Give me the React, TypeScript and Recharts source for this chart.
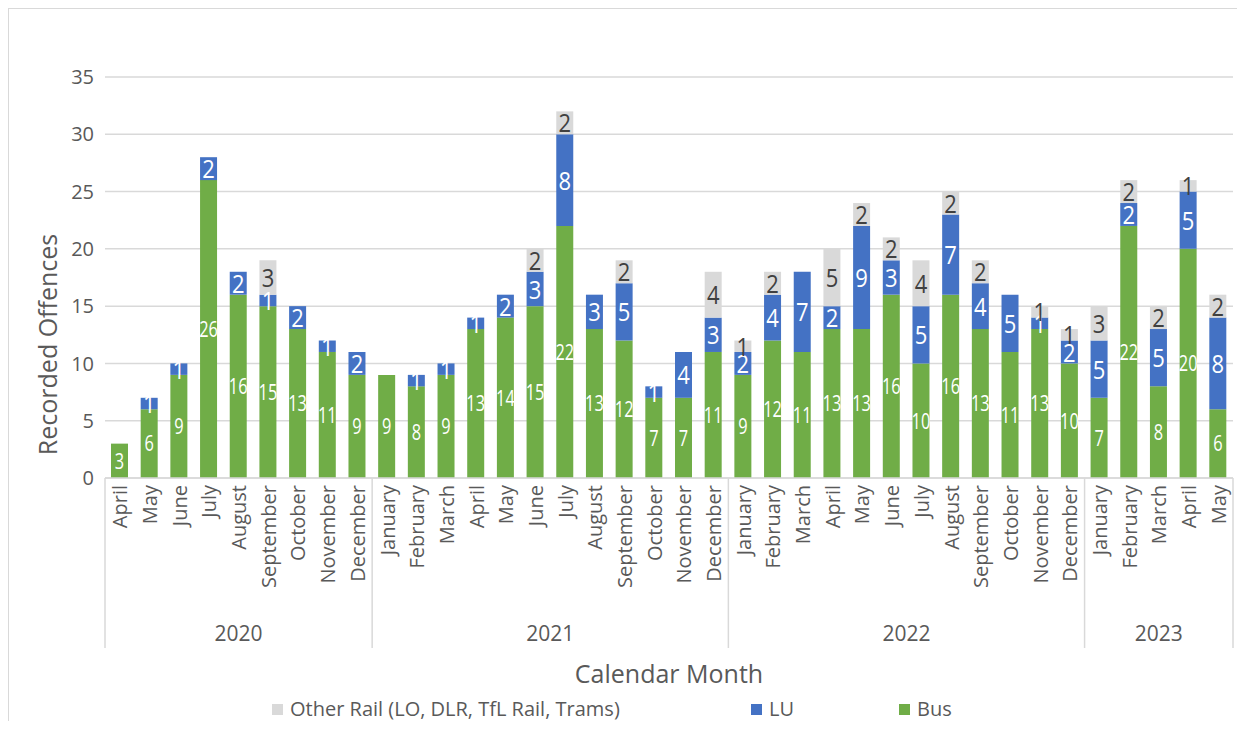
import { BarChart, Bar, XAxis, YAxis, CartesianGrid, LabelList } from 'recharts';

const MONTHS = [
  'April', 'May', 'June', 'July', 'August', 'September', 'October', 'November', 'December',
  'January', 'February', 'March', 'April', 'May', 'June', 'July', 'August', 'September', 'October', 'November', 'December',
  'January', 'February', 'March', 'April', 'May', 'June', 'July', 'August', 'September', 'October', 'November', 'December',
  'January', 'February', 'March', 'April', 'May',
];
const YEARS = ['2020', '2021', '2022', '2023'];
const YEAR_SPANS = [9, 12, 12, 5];

const BUS = [3, 6, 9, 26, 16, 15, 13, 11, 9, 9, 8, 9, 13, 14, 15, 22, 13, 12, 7, 7, 11, 9, 12, 11, 13, 13, 16, 10, 16, 13, 11, 13, 10, 7, 22, 8, 20, 6];
const LU = [0, 1, 1, 2, 2, 1, 2, 1, 2, 0, 1, 1, 1, 2, 3, 8, 3, 5, 1, 4, 3, 2, 4, 7, 2, 9, 3, 5, 7, 4, 5, 1, 2, 5, 2, 5, 5, 8];
const OTHER_RAIL = [0, 0, 0, 0, 0, 3, 0, 0, 0, 0, 0, 0, 0, 0, 2, 2, 0, 2, 0, 0, 4, 1, 2, 0, 5, 2, 2, 4, 2, 2, 0, 1, 1, 3, 2, 2, 1, 2];

const Y_TICKS = [0, 5, 10, 15, 20, 25, 30, 35];

const GREEN = '#70AD47';
const BLUE = '#4472C4';
const GREY = '#D9D9D9';
const TEXT = '#595959';

const W = 1228;
const H = 712;
const PLOT_BOTTOM = 469;
const MARGIN = { top: 68, right: 4, left: 0, bottom: 0 };
const Y_W = 96;
const PLOT_W = W - Y_W - MARGIN.right;
const STEP = PLOT_W / MONTHS.length;

// which year group each month belongs to
const groupStart: number[] = [];
const groupOf: number[] = [];
{
  let s = 0;
  YEAR_SPANS.forEach((n, g) => {
    groupStart.push(s);
    for (let i = 0; i < n; i++) groupOf.push(g);
    s += n;
  });
}

const data = MONTHS.map((m, i) => ({
  key: `${YEARS[groupOf[i]]}-${m}`,
  month: m,
  bus: BUS[i],
  lu: LU[i],
  other: OTHER_RAIL[i],
}));

function MonthTick(props: any) {
  const { x, y, index, payload } = props;
  const g = groupOf[index];
  const first = groupStart[g] === index;
  const last = index === MONTHS.length - 1;
  return (
    <g>
      <text
        transform={`translate(${x},${y + 7}) rotate(-90)`}
        textAnchor="end"
        dominantBaseline="central"
        fill={TEXT}
        fontSize={20}
      >
        {MONTHS[index] ?? payload.value}
      </text>
      {first && (
        <line x1={x - STEP / 2} x2={x - STEP / 2} y1={y} y2={y + 170} stroke={GREY} strokeWidth={1.5} />
      )}
      {last && (
        <line x1={x + STEP / 2} x2={x + STEP / 2} y1={y} y2={y + 170} stroke={GREY} strokeWidth={1.5} />
      )}
      {first && (
        <text
          x={x + ((YEAR_SPANS[g] - 1) / 2) * STEP}
          y={y + 155}
          textAnchor="middle"
          dominantBaseline="central"
          fill={TEXT}
          fontSize={21}
        >
          {YEARS[g]}
        </text>
      )}
    </g>
  );
}

const makeLabel = (color: string, size: number, sx: number) => (p: any) => {
  const { x, y, width, height, value } = p;
  if (!value) return null;
  const cx = Number(x) + Number(width) / 2;
  const cy = Number(y) + Number(height) / 2;
  return (
    <text
      transform={`translate(${cx},${cy}) scale(${sx},1)`}
      textAnchor="middle"
      dominantBaseline="central"
      fill={color}
      fontSize={size}
    >
      {value}
    </text>
  );
};

const LEGEND = [
  { name: 'Other Rail (LO, DLR, TfL Rail, Trams)', color: GREY, left: 263 },
  { name: 'LU', color: BLUE, left: 742 },
  { name: 'Bus', color: GREEN, left: 890 },
];

export default function App() {
  return (
    <div
      style={{
        position: 'relative',
        width: W,
        height: H,
        borderLeft: `1px solid ${GREY}`,
        borderTop: `1px solid ${GREY}`,
        fontFamily: '"Open Sans", sans-serif',
      }}
    >
      <BarChart width={W} height={H} data={data} margin={MARGIN} style={{ fontFamily: '"Open Sans", sans-serif' }}>
        <CartesianGrid vertical={false} stroke={GREY} strokeWidth={1.5} />
        <XAxis
          dataKey="key"
          interval={0}
          height={H - PLOT_BOTTOM}
          tickLine={false}
          tickSize={0}
          tickMargin={0}
          axisLine={{ stroke: GREY, strokeWidth: 1.5 }}
          tick={<MonthTick />}
          label={{
            content: (p: any) => {
              const vb = p.viewBox;
              return (
                <text
                  x={vb.x + vb.width / 2}
                  y={vb.y + 195}
                  textAnchor="middle"
                  dominantBaseline="central"
                  fill={TEXT}
                  fontSize={25}
                >
                  Calendar Month
                </text>
              );
            },
          }}
        />
        <YAxis
          width={Y_W}
          domain={[0, 35]}
          ticks={Y_TICKS}
          axisLine={false}
          tickLine={false}
          tickSize={0}
          tickMargin={11}
          tick={{ fill: TEXT, fontSize: 20 }}
          label={{
            content: (p: any) => {
              const vb = p.viewBox;
              const cy = vb.y + vb.height * 0.667;
              return (
                <text
                  transform={`translate(38,${cy}) rotate(-90)`}
                  textAnchor="middle"
                  dominantBaseline="central"
                  fill={TEXT}
                  fontSize={25}
                >
                  Recorded Offences
                </text>
              );
            },
          }}
        />
        <Bar dataKey="bus" name="Bus" stackId="a" fill={GREEN} barSize={17} isAnimationActive={false}>
          <LabelList dataKey="bus" content={makeLabel('#FFFFFF', 21, 0.78)} />
        </Bar>
        <Bar dataKey="lu" name="LU" stackId="a" fill={BLUE} barSize={17} isAnimationActive={false}>
          <LabelList dataKey="lu" content={makeLabel('#FFFFFF', 25, 0.88)} />
        </Bar>
        <Bar dataKey="other" name="Other Rail (LO, DLR, TfL Rail, Trams)" stackId="a" fill={GREY} barSize={17} isAnimationActive={false}>
          <LabelList dataKey="other" content={makeLabel('#404040', 25, 0.88)} />
        </Bar>
      </BarChart>
      {LEGEND.map((l) => (
        <div
          key={l.name}
          style={{
            position: 'absolute',
            left: l.left,
            top: 688,
            height: 24,
            lineHeight: '24px',
            display: 'flex',
            alignItems: 'center',
            gap: 7,
            color: TEXT,
            fontSize: 20,
            whiteSpace: 'nowrap',
          }}
        >
          <span style={{ display: 'inline-block', width: 11, height: 11, background: l.color }} />
          <span>{l.name}</span>
        </div>
      ))}
    </div>
  );
}
